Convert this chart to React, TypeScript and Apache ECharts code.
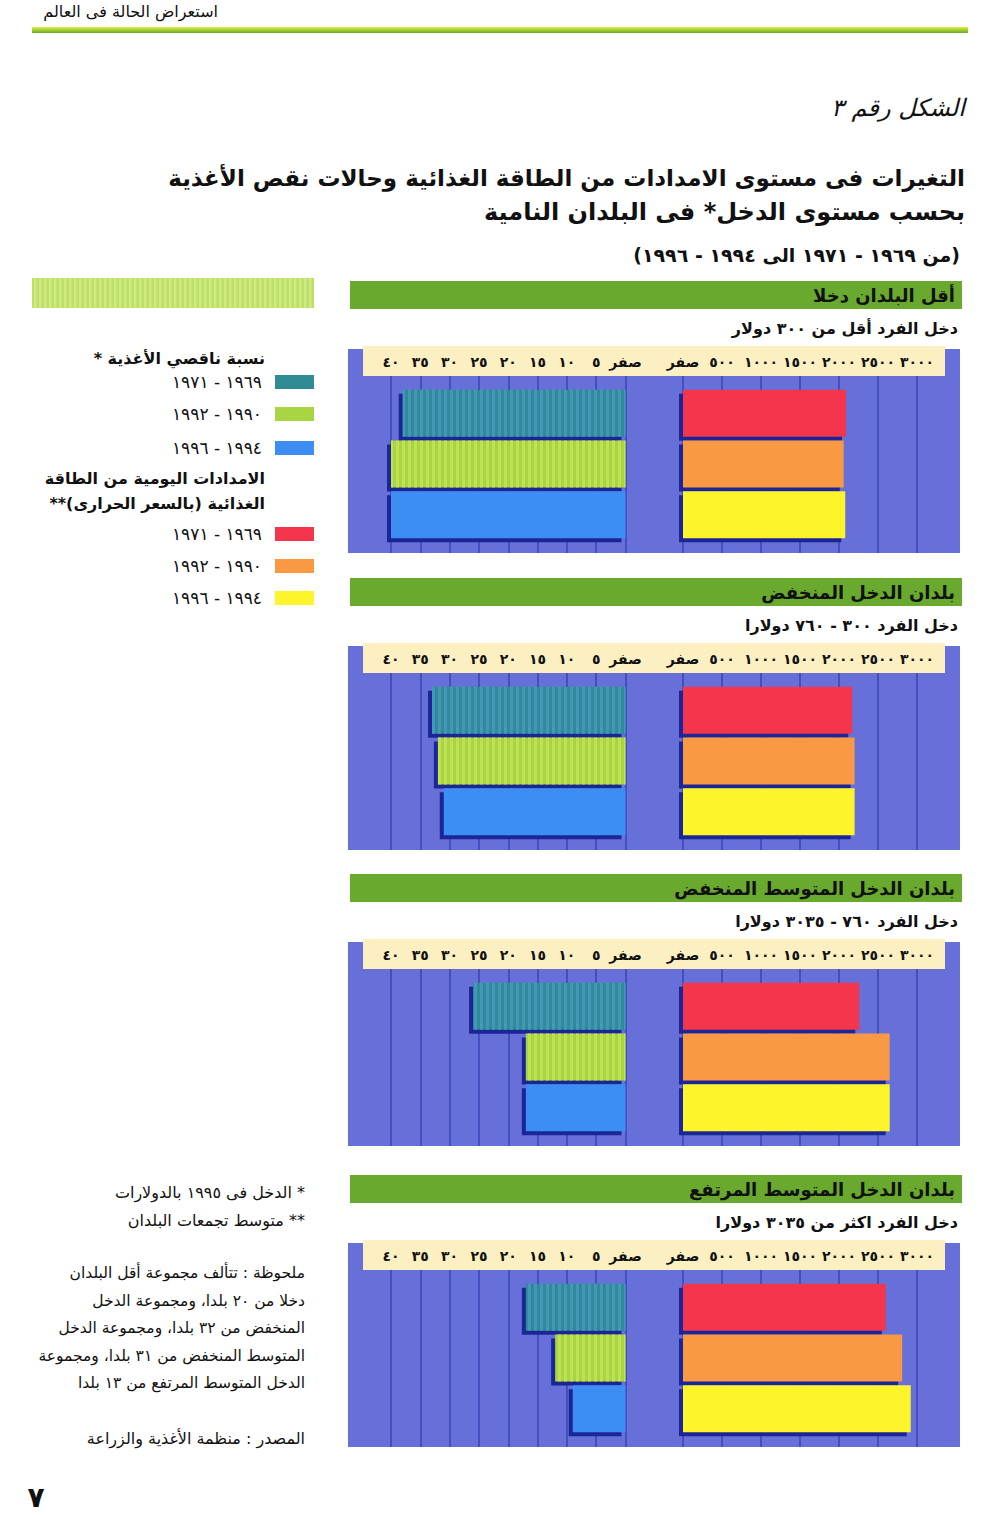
import React, { useEffect, useRef } from "react";
import * as echarts from "echarts";

// ---------- data ----------
const periods = ["١٩٦٩ - ١٩٧١", "١٩٩٠ - ١٩٩٢", "١٩٩٤ - ١٩٩٦"];
const groupNames = [
  "أقل البلدان دخلا",
  "بلدان الدخل المنخفض",
  "بلدان الدخل المتوسط المنخفض",
  "بلدان الدخل المتوسط المرتفع",
];
const incomeRanges = [
  "دخل الفرد أقل من ٣٠٠ دولار",
  "دخل الفرد ٣٠٠ - ٧٦٠ دولارا",
  "دخل الفرد ٧٦٠ - ٣٠٣٥ دولارا",
  "دخل الفرد اكثر من ٣٠٣٥ دولارا",
];
// proportion of undernourished (%)
const underLeast = [38, 40, 40];
const underLow = [33, 32, 31];
const underLowerMiddle = [26, 17, 17];
const underUpperMiddle = [17, 12, 9];
// daily dietary energy supply (kcal)
const kcalLeast = [2090, 2060, 2080];
const kcalLow = [2170, 2200, 2200];
const kcalLowerMiddle = [2260, 2650, 2650];
const kcalUpperMiddle = [2600, 2810, 2920];
// tick labels
const pctTicks = ["صفر", "٥", "١٠", "١٥", "٢٠", "٢٥", "٣٠", "٣٥", "٤٠"];
const kcalTicks = ["صفر", "٥٠٠", "١٠٠٠", "١٥٠٠", "٢٠٠٠", "٢٥٠٠", "٣٠٠٠"];

const underSeries = [underLeast, underLow, underLowerMiddle, underUpperMiddle];
const kcalSeries = [kcalLeast, kcalLow, kcalLowerMiddle, kcalUpperMiddle];

// ---------- styles ----------
const underColors = ["#2f8b94", "#a9d443", "#3d8ef2"];
const kcalColors = ["#f3364b", "#f99944", "#fdf42c"];
const SHADOW = "#1b2596";
const FONT = '"DejaVu Sans", sans-serif';
const rtl = (s: string) => "\u202B" + s + "\u202C";

const PANEL_TOP = [281, 578, 874, 1175];
const L_LEFT = 391;
const L_W = 234.5;
const R_LEFT = 683;
const R_W = 234;

function txt(text: string, x: number, y: number, size: number, weight = "normal", extra: any = {}) {
  return {
    type: "text",
    x,
    y,
    z: 10,
    style: {
      text: rtl(text),
      font: `${extra.italic ? "italic " : ""}${weight} ${size}px ${FONT}`,
      fill: extra.fill || "#111",
      align: extra.align || "right",
      verticalAlign: "middle",
    },
  };
}

function buildOption() {
  const grid: any[] = [];
  const xAxis: any[] = [];
  const yAxis: any[] = [];
  const series: any[] = [];
  const graphic: any[] = [];

  const decalFor = (i: number) =>
    i === 0
      ? { symbol: "rect", symbolSize: 1, color: "rgba(75,155,200,0.75)", dashArrayX: [3, 3], dashArrayY: [1, 0], rotation: 0 }
      : i === 1
      ? { symbol: "rect", symbolSize: 1, color: "rgba(195,230,85,0.8)", dashArrayX: [3, 3], dashArrayY: [1, 0], rotation: 0 }
      : null;

  PANEL_TOP.forEach((T, p) => {
    // panel decorations
    graphic.push({ type: "rect", z: -10, shape: { x: 348, y: T + 68, width: 612, height: 204 }, style: { fill: "#6670d8" } });
    graphic.push({ type: "rect", z: -5, shape: { x: 363, y: T + 65, width: 582, height: 30 }, style: { fill: "#fcf0c2" } });
    graphic.push({ type: "rect", z: 1, shape: { x: 350, y: T, width: 612, height: 28 }, style: { fill: "#68a92e" } });
    graphic.push(txt(groupNames[p], 955, T + 14, 18, "bold"));
    graphic.push(txt(incomeRanges[p], 958, T + 47, 16, "bold"));

    const sides = [
      { left: L_LEFT, width: L_W, max: 40, interval: 5, inverse: true, ticks: pctTicks, data: underSeries[p], colors: underColors, decal: true },
      { left: R_LEFT, width: R_W, max: 3000, interval: 500, inverse: false, ticks: kcalTicks, data: kcalSeries[p], colors: kcalColors, decal: false },
    ];
    sides.forEach((s) => {
      // frame grid: tick labels + vertical grid lines
      const gf = grid.length;
      grid.push({ left: s.left, top: T + 95, width: s.width, height: 177 });
      xAxis.push({
        gridIndex: gf,
        type: "value",
        position: "top",
        min: 0,
        max: s.max,
        interval: s.interval,
        inverse: s.inverse,
        axisLine: { show: false },
        axisTick: { show: false },
        axisLabel: {
          margin: 7,
          fontSize: 14,
          fontWeight: "bold",
          fontFamily: FONT,
          color: "#111",
          formatter: (v: number) => s.ticks[Math.round(v / s.interval)],
        },
        splitLine: { show: true, lineStyle: { color: "#3a43b4", width: 1.5 } },
      });
      yAxis.push({ gridIndex: gf, type: "value", min: 0, max: 1, show: false });

      // shadow grid (offset left / down)
      const gs = grid.length;
      grid.push({ left: s.left - 4, top: T + 111, width: s.width, height: 152 });
      xAxis.push({ gridIndex: gs, type: "value", min: 0, max: s.max, inverse: s.inverse, show: false, splitLine: { show: false } });
      yAxis.push({ gridIndex: gs, type: "category", data: periods, inverse: true, show: false });
      series.push({
        type: "bar",
        xAxisIndex: gs,
        yAxisIndex: gs,
        barWidth: 47,
        z: 2,
        silent: true,
        itemStyle: { color: SHADOW },
        data: s.data.slice(),
      });

      // bar grid
      const gb = grid.length;
      grid.push({ left: s.left, top: T + 107, width: s.width, height: 152 });
      xAxis.push({ gridIndex: gb, type: "value", min: 0, max: s.max, inverse: s.inverse, show: false, splitLine: { show: false } });
      yAxis.push({ gridIndex: gb, type: "category", data: periods, inverse: true, show: false });
      series.push({
        type: "bar",
        xAxisIndex: gb,
        yAxisIndex: gb,
        barWidth: 47,
        z: 3,
        data: s.data.map((v, i) => ({
          value: v,
          itemStyle: {
            color: s.colors[i],
            ...(s.decal && decalFor(i) ? { decal: decalFor(i) } : {}),
          },
        })),
      });
    });
  });

  // page header
  graphic.push(txt("استعراض الحالة فى العالم", 218, 11, 16, "normal"));
  graphic.push({
    type: "rect",
    shape: { x: 32, y: 27, width: 936, height: 6 },
    style: {
      fill: { type: "linear", x: 0, y: 0, x2: 0, y2: 1, colorStops: [{ offset: 0, color: "#e6ec3a" }, { offset: 1, color: "#62ad2e" }] },
    },
  });
  graphic.push(txt("الشكل رقم ٣", 965, 108, 24, "normal", { italic: true }));
  graphic.push(txt("التغيرات فى مستوى الامدادات من الطاقة الغذائية وحالات نقص الأغذية", 965, 178, 23, "bold"));
  graphic.push(txt("بحسب مستوى الدخل* فى البلدان النامية", 965, 212, 24, "bold"));
  graphic.push(txt("(من ١٩٦٩ - ١٩٧١ الى ١٩٩٤ - ١٩٩٦)", 960, 255, 19, "bold"));

  // legend decorative striped bar
  graphic.push({ type: "rect", shape: { x: 32, y: 278, width: 282, height: 30 }, style: { fill: "#bde05e" } });
  for (let sx = 34; sx < 313; sx += 5) {
    graphic.push({ type: "rect", shape: { x: sx, y: 278, width: 2.5, height: 30 }, style: { fill: "#cfe98a" } });
  }
  graphic.push(txt("نسبة ناقصي الأغذية *", 265, 358, 16, "bold"));
  const underY = [382, 414, 448];
  underY.forEach((y, i) => {
    graphic.push({ type: "rect", shape: { x: 275, y: y - 7, width: 39, height: 14 }, style: { fill: underColors[i] } });
    graphic.push(txt(periods[i], 262, y, 17, "normal"));
  });
  graphic.push(txt("الامدادات اليومية من الطاقة", 265, 478, 16, "bold"));
  graphic.push(txt("الغذائية (بالسعر الحرارى)**", 265, 503, 16, "bold"));
  const kcalY = [534, 566, 598];
  kcalY.forEach((y, i) => {
    graphic.push({ type: "rect", shape: { x: 275, y: y - 7, width: 39, height: 14 }, style: { fill: kcalColors[i] } });
    graphic.push(txt(periods[i], 262, y, 17, "normal"));
  });

  // footnotes
  graphic.push(txt("* الدخل فى ١٩٩٥ بالدولارات", 305, 1192, 16));
  graphic.push(txt("** متوسط تجمعات البلدان", 305, 1220, 16));
  const notes = [
    "ملحوظة : تتألف مجموعة أقل البلدان",
    "دخلا من ٢٠ بلدا، ومجموعة الدخل",
    "المنخفض من ٣٢ بلدا، ومجموعة الدخل",
    "المتوسط المنخفض من ٣١ بلدا، ومجموعة",
    "الدخل المتوسط المرتفع من ١٣ بلدا",
  ];
  notes.forEach((n, i) => graphic.push(txt(n, 305, 1273 + i * 27.6, 15.5)));
  graphic.push(txt("المصدر : منظمة الأغذية والزراعة", 305, 1438, 16));
  graphic.push(txt("٧", 36, 1497, 28, "bold", { align: "center" }));

  return {
    animation: false,
    backgroundColor: "#ffffff",
    grid,
    xAxis,
    yAxis,
    series,
    graphic: { elements: graphic },
  };
}

export default function App() {
  const ref = useRef<HTMLDivElement>(null);
  useEffect(() => {
    if (!ref.current) return;
    const chart = echarts.init(ref.current, null, { renderer: "svg" });
    chart.setOption(buildOption() as any);
    return () => chart.dispose();
  }, []);
  return (
    <div
      ref={ref}
      style={{ position: "absolute", left: 0, top: 0, width: 1000, height: 1515, background: "#fff" }}
    />
  );
}
